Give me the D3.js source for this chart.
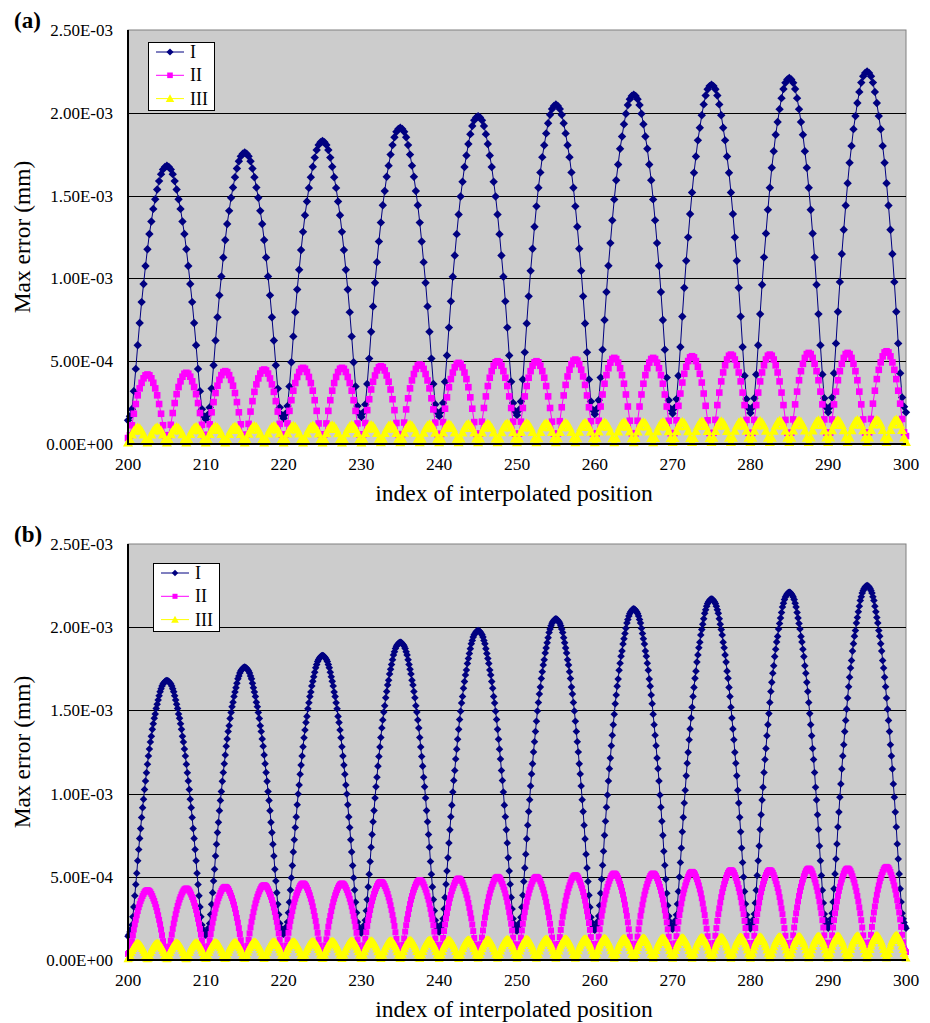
<!DOCTYPE html>
<html>
<head>
<meta charset="utf-8">
<script src="https://cdn.jsdelivr.net/npm/d3@7"></script>
<style>
body { margin: 0; background: #fff; }
svg { display: block; }
text { font-family: "Liberation Serif", "Times New Roman", serif; fill: #000; }
</style>
</head>
<body>
<svg id="chart" width="930" height="1023"></svg>
<script>
// x range and ticks
const xDomain = [200, 300];
const xTicks = [200, 210, 220, 230, 240, 250, 260, 270, 280, 290, 300];
const yTicks = [0, 0.0005, 0.001, 0.0015, 0.002, 0.0025];
const yTickLabels = ['0.00E+00', '5.00E-04', '1.00E-03', '1.50E-03', '2.00E-03', '2.50E-03'];

const seriesNames = ['I', 'II', 'III'];
// width of one arch (index units) for each series
const archWidths = [10, 5, 2.5];

// peak of each arch, mm
const peaksI = [1.68e-3, 1.76e-3, 1.83e-3, 1.91e-3, 1.98e-3, 2.05e-3, 2.11e-3, 2.17e-3, 2.21e-3, 2.25e-3];
const peaksII = [0.42e-3, 0.43e-3, 0.44e-3, 0.45e-3, 0.46e-3, 0.46e-3, 0.47e-3, 0.48e-3, 0.49e-3, 0.50e-3,
	0.50e-3, 0.51e-3, 0.52e-3, 0.52e-3, 0.53e-3, 0.54e-3, 0.54e-3, 0.55e-3, 0.55e-3, 0.56e-3];
const peaksIII = [0.100e-3, 0.101e-3, 0.102e-3, 0.104e-3, 0.105e-3, 0.106e-3, 0.108e-3, 0.109e-3, 0.110e-3, 0.111e-3,
	0.113e-3, 0.114e-3, 0.115e-3, 0.116e-3, 0.118e-3, 0.119e-3, 0.120e-3, 0.121e-3, 0.122e-3, 0.124e-3,
	0.125e-3, 0.126e-3, 0.127e-3, 0.128e-3, 0.130e-3, 0.131e-3, 0.132e-3, 0.133e-3, 0.134e-3, 0.136e-3,
	0.137e-3, 0.138e-3, 0.139e-3, 0.140e-3, 0.142e-3, 0.143e-3, 0.144e-3, 0.145e-3, 0.147e-3, 0.148e-3];

// half-arch shape (edge -> top), fraction of the arch peak
const archShape = [0.085, 0.09, 0.10, 0.11, 0.125, 0.155, 0.19, 0.23, 0.27, 0.31,
	0.355, 0.395, 0.435, 0.47, 0.51, 0.545, 0.575, 0.61, 0.64, 0.67,
	0.70, 0.73, 0.755, 0.78, 0.80, 0.825, 0.845, 0.865, 0.88, 0.90,
	0.915, 0.93, 0.945, 0.96, 0.97, 0.98, 0.987, 0.992, 0.996, 0.999, 1.0];

const panelLabels = ['(a)', '(b)'];
// sampling step of the interpolated index in each panel
const panelSteps = [0.25, 0.125];

const colors = ['#000080', '#ff00ff', '#ffff00'];

const panels = [
	{ top: 30, bottom: 444, legendX: 148, legendY: 42, markScale: 1 },
	{ top: 544, bottom: 960, legendX: 153, legendY: 563, markScale: 0.9 }
];
const plotLeft = 128, plotRight = 906;

const buildSeries = (peaks, width, step) => {
	const n = Math.round((xDomain[1] - xDomain[0]) / step);
	const half = archShape.length - 1;
	const pts = [];
	for (let i = 0; i <= n; i++) {
		const x = xDomain[0] + i * step;
		const k = Math.min(Math.floor((x - xDomain[0]) / width), peaks.length - 1);
		let j = (x - xDomain[0] - k * width) / width;
		if (j > 0.5) j = 1 - j;
		const idx = Math.round(j * 2 * half);
		pts.push({ x: x, y: peaks[k] * archShape[idx] });
	}
	return pts;
};

const diamond = (r) => `M0,${-r}L${r},0L0,${r}L${-r},0Z`;
const square = (r) => `M${-r},${-r}H${r}V${r}H${-r}Z`;
const triangle = (r) => `M0,${-r}L${r},${r * 0.8}L${-r},${r * 0.8}Z`;
const markers = [(s) => diamond(4.2 * s), (s) => square(3.3 * s), (s) => triangle(5 * s)];

const svg = d3.select('#chart');

function drawPanel(p, pi) {
	const g = svg.append('g');
	const x = d3.scaleLinear().domain(xDomain).range([plotLeft, plotRight]);
	const y = d3.scaleLinear().domain([0, 0.0025]).range([p.bottom, p.top]);

	g.append('rect')
		.attr('x', plotLeft).attr('y', p.top)
		.attr('width', plotRight - plotLeft).attr('height', p.bottom - p.top)
		.attr('fill', '#cccccc').attr('stroke', '#808080').attr('stroke-width', 1);

	// gridlines
	g.selectAll('line.grid')
		.data(yTicks.slice(1, -1))
		.enter()
		.append('line')
		.attr('x1', plotLeft).attr('x2', plotRight)
		.attr('y1', (d) => Math.round(y(d)) + 0.5).attr('y2', (d) => Math.round(y(d)) + 0.5)
		.attr('stroke', '#000').attr('stroke-width', 1);

	const allSeries = [peaksI, peaksII, peaksIII].map((pk, si) => buildSeries(pk, archWidths[si], panelSteps[pi]));
	const line = d3.line().x((d) => x(d.x)).y((d) => y(d.y));

	allSeries.forEach((data, si) => {
		g.append('path')
			.attr('d', line(data))
			.attr('fill', 'none')
			.attr('stroke', colors[si])
			.attr('stroke-width', 1);
		g.selectAll('path.m' + si)
			.data(data)
			.enter()
			.append('path')
			.attr('class', 'm' + si)
			.attr('transform', (d) => `translate(${x(d.x)},${y(d.y)})`)
			.attr('d', markers[si](p.markScale))
			.attr('fill', colors[si]);
	});

	// axes lines
	g.append('line').attr('x1', plotLeft).attr('x2', plotLeft)
		.attr('y1', p.top).attr('y2', p.bottom + 1)
		.attr('stroke', '#000').attr('stroke-width', 2);
	g.append('line').attr('x1', plotLeft).attr('x2', plotRight)
		.attr('y1', p.bottom).attr('y2', p.bottom)
		.attr('stroke', '#000').attr('stroke-width', 2);

	// tick labels
	g.selectAll('text.yt')
		.data(yTicks)
		.enter()
		.append('text')
		.attr('x', 113)
		.attr('y', (d) => y(d) + 6)
		.attr('text-anchor', 'end')
		.style('font-size', '17px')
		.text((d, i) => yTickLabels[i]);
	g.selectAll('text.xt')
		.data(xTicks)
		.enter()
		.append('text')
		.attr('x', (d) => x(d))
		.attr('y', p.bottom + 26)
		.attr('text-anchor', 'middle')
		.style('font-size', '17.5px')
		.text((d) => d);

	// titles
	g.append('text')
		.attr('x', (plotLeft + plotRight) / 2 - 3)
		.attr('y', p.bottom + 57)
		.attr('text-anchor', 'middle')
		.style('font-size', '23.5px')
		.text('index of interpolated position');
	g.append('text')
		.attr('transform', `translate(30,${(p.top + p.bottom) / 2}) rotate(-90)`)
		.attr('text-anchor', 'middle')
		.style('font-size', '23.5px')
		.text('Max error (mm)');
	g.append('text')
		.attr('x', 14).attr('y', p.top - 2)
		.style('font-size', '23px').style('font-weight', 'bold')
		.text(panelLabels[pi]);

	// legend
	const lg = g.append('g').attr('transform', `translate(${p.legendX},${p.legendY})`);
	lg.append('rect').attr('x', 0.5).attr('y', 0.5).attr('width', 66).attr('height', 68)
		.attr('fill', '#fff').attr('stroke', '#000').attr('stroke-width', 1);
	seriesNames.forEach((name, si) => {
		const ly = 10 + si * 23.3;
		lg.append('line').attr('x1', 8).attr('x2', 36).attr('y1', ly).attr('y2', ly)
			.attr('stroke', colors[si]).attr('stroke-width', 1);
		lg.append('path').attr('transform', `translate(22,${ly})`)
			.attr('d', markers[si](p.markScale * 0.85)).attr('fill', colors[si]);
		lg.append('text').attr('x', 42).attr('y', ly + 6)
			.style('font-size', '18px').text(name);
	});
}

panels.forEach(drawPanel);
</script>
</body>
</html>
